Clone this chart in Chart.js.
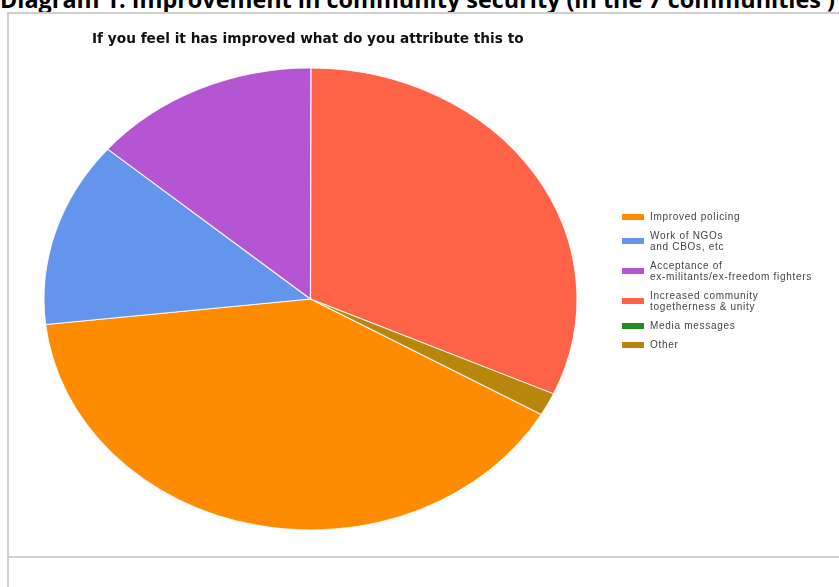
<!DOCTYPE html>
<html>
<head>
<meta charset="utf-8">
<script src="https://cdn.jsdelivr.net/npm/chart.js@4/dist/chart.umd.min.js"></script>
<style>
  html, body { margin:0; padding:0; background:#fff; }
  body { width:839px; height:587px; position:relative; overflow:hidden; font-family:"Liberation Sans", Arial, sans-serif; }
  #heading { position:absolute; left:0; top:-17px; font-family:"Open Sans", sans-serif; font-weight:bold; font-size:23.4px; white-space:nowrap; color:#000; }
  .hline { position:absolute; left:8px; right:0; height:2px; background:#cfcfcf; }
  .vline { position:absolute; left:7px; top:12px; bottom:0; width:2px; background:#cfcfcf; }
  #title { position:absolute; left:92px; top:30px; font-family:"DejaVu Sans", sans-serif; font-weight:bold; font-size:13.7px; color:#111; white-space:nowrap; }
  #wrap { position:absolute; left:0; top:0; width:839px; height:587px; }
  #legend { position:absolute; left:622px; top:211px; font-size:10px; letter-spacing:0.7px; line-height:11px; color:#444; }
  .item { display:flex; align-items:center; margin-bottom:8px; }
  .box { width:22px; height:6px; margin-right:6px; flex:none; }
</style>
</head>
<body>
<div id="heading">Diagram 1: Improvement in community security (in the 7 communities )</div>
<div class="hline" style="top:12px"></div>
<div class="hline" style="top:556px"></div>
<div class="vline"></div>
<div id="wrap"><canvas id="pie"></canvas></div>
<div id="title">If you feel it has improved what do you attribute this to</div>
<div id="legend"></div>
<script>
// values (percent of answers)
const categories = [
  ["Improved policing"],
  ["Work of NGOs", "and CBOs, etc"],
  ["Acceptance of", "ex-militants/ex-freedom fighters"],
  ["Increased community", "togetherness  & unity"],
  ["Media messages"],
  ["Other"]
];
const shares = [39.9, 13.0, 13.8, 31.7, 0, 1.6];
const colors = ["#ff8c00", "#6495ed", "#b655d4", "#ff6347", "#228b22", "#b8860b"];

// pie in the picture is an ellipse, so stretch it sideways
const SX = 266.5 / 231;
const squash = {
  id: "squash",
  beforeDatasetsDraw(chart){
    const arc = chart.getDatasetMeta(0).data[0];
    const ctx = chart.ctx;
    ctx.save();
    ctx.translate(arc.x, arc.y);
    ctx.scale(SX, 1);
    ctx.translate(-arc.x, -arc.y);
  },
  afterDatasetsDraw(chart){
    chart.ctx.restore();
  }
};

new Chart(document.getElementById("pie"), {
  type: "pie",
  data: {
    labels: categories.map(c => c.join(" ")),
    datasets: [{
      data: shares,
      backgroundColor: colors,
      borderColor: "rgba(255,255,255,0.85)",
      borderWidth: 1,
      radius: 231
    }]
  },
  options: {
    responsive: true,
    maintainAspectRatio: false,
    animation: false,
    rotation: 120,
    layout: { padding: { left: 60.5, right: 278.5, top: 67, bottom: 56 } },
    plugins: {
      legend: { display: false },
      tooltip: { enabled: false }
    }
  },
  plugins: [squash]
});

// legend
const legend = document.getElementById("legend");
categories.forEach((lines, i) => {
  const item = document.createElement("div");
  item.className = "item";
  const box = document.createElement("div");
  box.className = "box";
  box.style.background = colors[i];
  const txt = document.createElement("div");
  txt.innerHTML = lines.join("<br>");
  item.appendChild(box);
  item.appendChild(txt);
  legend.appendChild(item);
});
</script>
</body>
</html>
